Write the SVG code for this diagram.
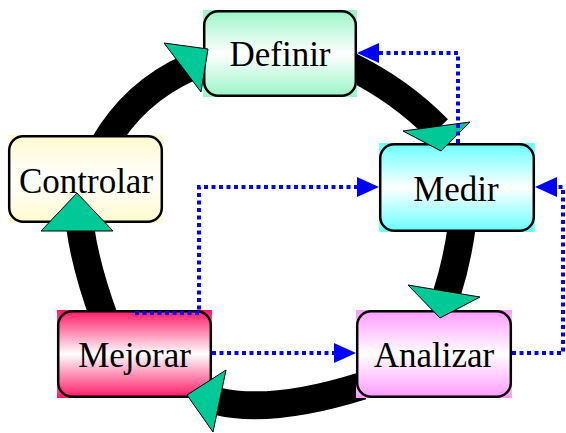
<svg xmlns="http://www.w3.org/2000/svg" width="566" height="433" viewBox="0 0 566 433">
  <defs>
    <linearGradient id="gDefinir" x1="0" y1="0" x2="0" y2="1">
      <stop offset="0" stop-color="#99f5c6"/>
      <stop offset="0.5" stop-color="#ffffff"/>
      <stop offset="1" stop-color="#99f5c6"/>
    </linearGradient>
    <linearGradient id="gControlar" x1="0" y1="0" x2="0" y2="1">
      <stop offset="0" stop-color="#fffacc"/>
      <stop offset="0.5" stop-color="#ffffff"/>
      <stop offset="1" stop-color="#fffacc"/>
    </linearGradient>
    <linearGradient id="gMedir" x1="0" y1="0" x2="0" y2="1">
      <stop offset="0" stop-color="#66ffff"/>
      <stop offset="0.5" stop-color="#ffffff"/>
      <stop offset="1" stop-color="#66ffff"/>
    </linearGradient>
    <linearGradient id="gMejorar" x1="0" y1="0" x2="0" y2="1">
      <stop offset="0" stop-color="#ff1464"/>
      <stop offset="0.5" stop-color="#ffffff"/>
      <stop offset="1" stop-color="#ff1464"/>
    </linearGradient>
    <linearGradient id="gAnalizar" x1="0" y1="0" x2="0" y2="1">
      <stop offset="0" stop-color="#ff99ff"/>
      <stop offset="0.5" stop-color="#ffffff"/>
      <stop offset="1" stop-color="#ff99ff"/>
    </linearGradient>
    <marker id="blueHead" viewBox="0 0 22 20" refX="0" refY="10" markerWidth="22" markerHeight="20" markerUnits="userSpaceOnUse" orient="auto">
      <path d="M0,0 L22,10 L0,20 z" fill="#0000ff"/>
    </marker>
    <style>
      .ring { fill: none; stroke: #000000; stroke-width: 28; stroke-linecap: butt; }
      .border { fill: none; stroke: #000000; stroke-width: 2.5; }
      .label { font-size: 35px; fill: #000000; text-anchor: middle; }
      .head { fill: #00c896; stroke: #000000; stroke-width: 1; stroke-linejoin: miter; }
      .dotted { fill: none; stroke: #0000ff; stroke-width: 4; stroke-dasharray: 4 3.5; marker-end: url(#blueHead); }
    </style>
  </defs>

  <!-- thick cycle band -->
  <g id="cycle">
    <path class="ring" d="M 104 144.5 A 187 187 0 0 1 189.4 67.4"/>
    <path class="ring" d="M 350 66 Q 400 90.5 438 129"/>
    <path class="ring" d="M 462 225 Q 457 262 447 293"/>
    <path class="ring" d="M 362 386 Q 271 414.5 216 401"/>
    <path class="ring" d="M 105 320 Q 85.5 267 80 226"/>
  </g>

  <g font-family="Liberation Serif, Times New Roman, serif">
    <g id="definir">
      <rect x="203" y="10" width="154" height="87" fill="url(#gDefinir)"/>
      <rect class="border" x="204.2" y="11.2" width="151.6" height="84.6" rx="14"/>
      <text class="label" x="280" y="66">Definir</text>
    </g>
    <g id="controlar">
      <rect x="8" y="135" width="155" height="88" fill="url(#gControlar)"/>
      <rect class="border" x="9.2" y="136.2" width="152.6" height="85.6" rx="14"/>
      <text class="label" x="86" y="192.5">Controlar</text>
    </g>
    <g id="medir">
      <rect x="379" y="143" width="156" height="89" fill="url(#gMedir)"/>
      <rect class="border" x="380.2" y="144.2" width="153.6" height="86.6" rx="14"/>
      <text class="label" x="456" y="200.5">Medir</text>
    </g>
    <g id="mejorar">
      <rect x="57" y="310" width="155" height="88" fill="url(#gMejorar)"/>
      <rect class="border" x="58.2" y="311.2" width="152.6" height="85.6" rx="14"/>
      <text class="label" x="134.5" y="366.5">Mejorar</text>
    </g>
    <g id="analizar">
      <rect x="356" y="310" width="156" height="88" fill="url(#gAnalizar)"/>
      <rect class="border" x="357.2" y="311.2" width="153.6" height="85.6" rx="14"/>
      <text class="label" x="434" y="366.5">Analizar</text>
    </g>
  </g>

  <!-- arrowheads of the cycle -->
  <g id="cycle-heads">
    <polygon class="head" points="164,43 208,49 201,92"/>
    <polygon class="head" points="403,131 470,122 441,151"/>
    <polygon class="head" points="408,285 480,297 440,318"/>
    <polygon class="head" points="226,370 187,395 213,432"/>
    <polygon class="head" points="77,193 41,231 113,231"/>
  </g>

  <!-- feedback connectors -->
  <g id="connectors">
    <path class="dotted" d="M 458 143 V 53 H 379"/>
    <path class="dotted" d="M 135 313 H 199 V 187 H 357"/>
    <path class="dotted" d="M 212 353 H 334"/>
    <path class="dotted" d="M 512 353 H 563 V 187 H 557"/>
  </g>
</svg>
